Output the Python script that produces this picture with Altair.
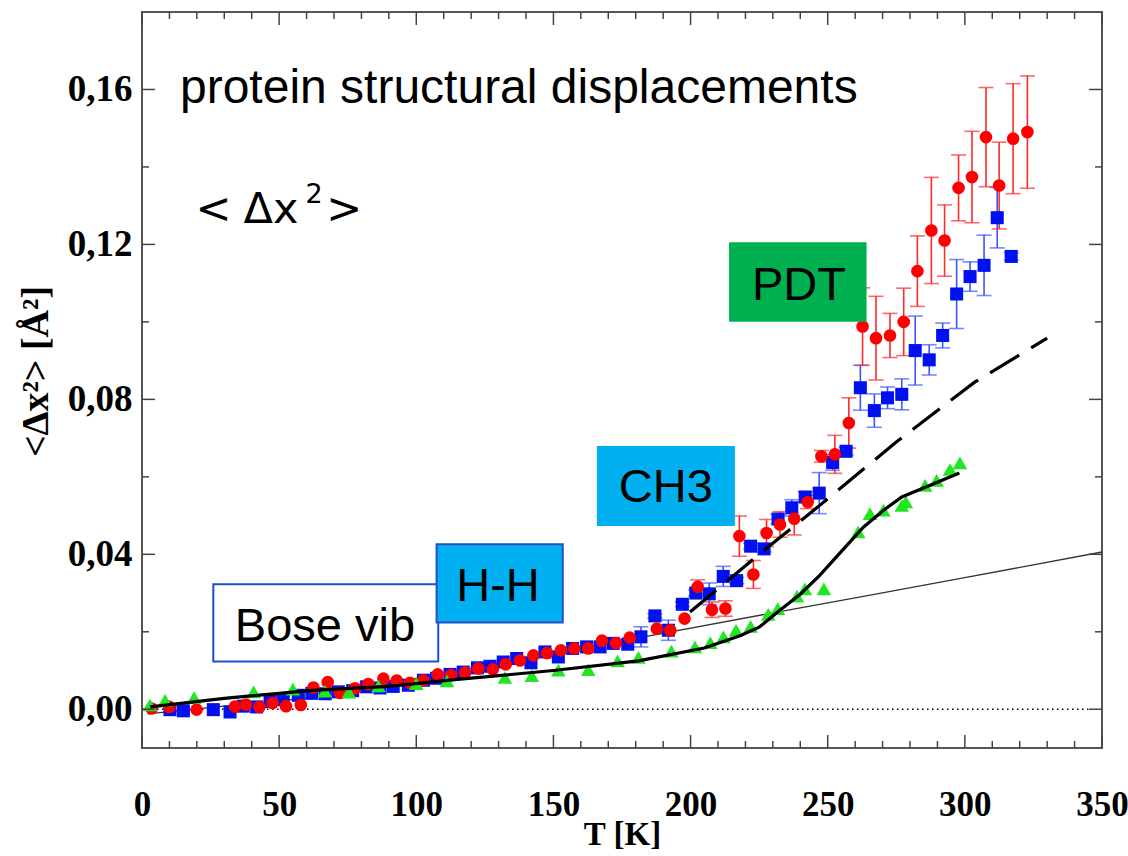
import altair as alt
import pandas as pd

# ---------------- data ----------------
red_T = [3.5, 10.0, 19.9, 33.9, 37.9, 42.8, 47.6, 52.5, 57.9, 62.5, 67.7, 72.2, 77.7, 82.5, 88.0,
         92.9, 97.7, 102.6, 107.8, 112.7, 117.8, 122.6, 127.9, 132.6, 137.8, 142.7, 147.7,
         152.7, 157.6, 162.7, 167.7, 172.8, 177.8, 187.7, 192.6, 197.8, 202.6, 207.8, 212.7,
         217.8, 222.9, 227.7, 232.6, 237.8, 242.7, 247.7, 252.6, 257.7, 262.7, 267.6, 272.7,
         277.7, 282.7, 287.8, 292.6, 297.7, 302.6, 307.7, 312.5, 317.6, 322.8]
red_y = [0.0002, 0.0006, -0.0001, 0.0007, 0.0012, 0.0006, 0.0016, 0.0008, 0.0011, 0.0056, 0.0070,
         0.0042, 0.0054, 0.0065, 0.0079, 0.0074, 0.0068, 0.0075, 0.0090, 0.0088, 0.0095, 0.0105,
         0.0103, 0.0116, 0.0126, 0.0139, 0.0145, 0.0152, 0.0157, 0.0157, 0.0177, 0.0171, 0.0185,
         0.0208, 0.0204, 0.0234, 0.0316, 0.0257, 0.0260, 0.0447, 0.0348, 0.0455, 0.0477, 0.0492,
         0.0535, 0.0653, 0.0658, 0.0739, 0.0988, 0.0958, 0.0965, 0.1000, 0.1131, 0.1236, 0.1210,
         0.1346, 0.1374, 0.1477, 0.1352, 0.1473, 0.1490]
red_err = [0.0] * 36 + [0.0018, 0.0020, 0.0020, 0.0052, 0.0036, 0.0035, 0.0033, 0.0042, 0.0017,
                        0.0015, 0.0049, 0.0065, 0.0100, 0.0108, 0.0057, 0.0087, 0.0091, 0.0137,
                        0.0092, 0.0085, 0.0118, 0.0128, 0.0112, 0.0142, 0.0145]

blue_T = [10.2, 15.1, 26.0, 32.1, 36.9, 41.8, 46.7, 51.5, 57.0, 61.9, 66.8, 71.6, 76.8, 81.9, 86.8,
          91.6, 97.1, 102.6, 107.4, 112.3, 117.1, 122.3, 126.9, 131.7, 136.6, 141.8, 146.9, 151.8,
          157.0, 162.1, 167.0, 171.8, 177.1, 181.9, 187.0, 191.9, 197.0, 201.9, 206.8, 211.9,
          216.8, 221.9, 226.8, 231.9, 236.9, 241.8, 246.9, 251.8, 256.7, 261.9, 267.0, 271.8,
          277.0, 281.9, 287.0, 291.9, 297.0, 301.9, 307.0, 311.8, 316.9]
blue_y = [-0.0001, -0.0004, -0.0001, -0.0007, 0.0008, 0.0006, 0.0020, 0.0025, 0.0036, 0.0041,
          0.0040, 0.0045, 0.0048, 0.0058, 0.0055, 0.0059, 0.0062, 0.0075, 0.0080, 0.0090, 0.0096,
          0.0107, 0.0111, 0.0122, 0.0131, 0.0120, 0.0148, 0.0135, 0.0157, 0.0161, 0.0161, 0.0170,
          0.0168, 0.0187, 0.0241, 0.0204, 0.0271, 0.0300, 0.0298, 0.0343, 0.0332, 0.0421, 0.0414,
          0.0491, 0.0520, 0.0548, 0.0558, 0.0637, 0.0666, 0.0830, 0.0771, 0.0804, 0.0813, 0.0926,
          0.0902, 0.0965, 0.1072, 0.1117, 0.1146, 0.1269, 0.1169]
blue_err = [0.0] * 33 + [0.0026, 0.0005, 0.0026, 0.0006, 0.0008, 0.0028, 0.0026, 0.0008, 0.0008,
                         0.0008, 0.0012, 0.0021, 0.0013, 0.0053, 0.0020, 0.0010, 0.0058, 0.0043,
                         0.0028, 0.0040, 0.0089, 0.0039, 0.0032, 0.0089, 0.0038, 0.0078, 0.0078,
                         0.0010]

green_T = [2.9, 8.4, 19.0, 40.7, 55.0, 66.7, 75.4, 86.2, 100.0, 111.2, 132.3, 142.1, 151.8, 162.7,
           173.4, 181.0, 193.0, 201.6, 207.2, 212.0, 216.6, 221.9, 228.3, 231.8, 238.8, 241.7,
           248.6, 261.1, 265.4, 270.3, 277.0, 278.5, 285.5, 289.7, 294.6, 298.2]
green_y = [0.0011, 0.0023, 0.0030, 0.0045, 0.0052, 0.0047, 0.0044, 0.0060, 0.0066, 0.0073, 0.0082,
           0.0087, 0.0101, 0.0102, 0.0125, 0.0134, 0.0150, 0.0161, 0.0172, 0.0187, 0.0204, 0.0214,
           0.0245, 0.0260, 0.0292, 0.0311, 0.0311, 0.0458, 0.0505, 0.0514, 0.0526, 0.0535, 0.0578,
           0.0591, 0.0619, 0.0636]

fit_T = [3, 30, 62, 90, 112, 150, 181, 205, 218, 225, 233, 240, 247, 254, 263, 270, 277, 288, 298]
fit_y = [0.0006, 0.0028, 0.0049, 0.0059, 0.0075, 0.0100, 0.0125, 0.0158, 0.0190, 0.0212, 0.0258,
         0.0297, 0.0345, 0.0400, 0.0470, 0.0512, 0.0548, 0.0580, 0.0610]

bose_T = [2, 30, 62, 120, 180, 240, 265, 298, 350]
bose_y = [-0.0012, 0.0008, 0.0030, 0.0106, 0.0183, 0.0262, 0.0294, 0.0337, 0.0406]

dash_T = [199.8, 225.0, 247.2, 275.0, 303.7, 330.0]
dash_y = [0.0251, 0.0400, 0.0527, 0.0690, 0.0845, 0.0958]

zero_T = [0, 345]
zero_y = [0.0, 0.0]

x_major = [0, 50, 100, 150, 200, 250, 300, 350]
x_minor = [v for v in range(10, 350, 10) if v % 50 != 0]
y_major = [0.0, 0.04, 0.08, 0.12, 0.16]
y_minor = [0.02, 0.06, 0.10, 0.14]

box_labels = ["Bose vib", "H-H", "CH3", "PDT"]
box_x1 = [26.0, 107.4, 166.2, 214.4]
box_x2 = [108.0, 153.4, 215.8, 263.8]
box_y1 = [0.0123, 0.0224, 0.0476, 0.1003]
box_y2 = [0.0323, 0.0426, 0.0677, 0.1203]
box_tx = [66.7, 129.8, 191.0, 239.5]
box_ty = [0.0177, 0.0280, 0.0534, 0.1057]
box_fill = ["#ffffff", "#00b0f0", "#00b0f0", "#00b050"]
box_stroke = ["#2050c8", "#2050c8", "#00b0f0", "#00b050"]

# ---------------- frames ----------------
W, H = 960, 736
XD = [0, 350]
YD = [-0.01, 0.18]

red = pd.DataFrame({"T": red_T, "y": red_y, "e": red_err})
red["lo"] = red["y"] - red["e"]
red["hi"] = red["y"] + red["e"]
red_eb = red[red["e"] > 0]
blue = pd.DataFrame({"T": blue_T, "y": blue_y, "e": blue_err})
blue["lo"] = blue["y"] - blue["e"]
blue["hi"] = blue["y"] + blue["e"]
blue_eb = blue[blue["e"] > 0]
green = pd.DataFrame({"T": green_T, "y": green_y})
fit = pd.DataFrame({"T": fit_T, "y": fit_y})
bose = pd.DataFrame({"T": bose_T, "y": bose_y})
dash = pd.DataFrame({"T": dash_T, "y": dash_y})
zero = pd.DataFrame({"T": zero_T, "y": zero_y})
boxes = pd.DataFrame({"label": box_labels, "x1": box_x1, "x2": box_x2, "y1": box_y1, "y2": box_y2,
                      "tx": box_tx, "ty": box_ty, "fill": box_fill, "stroke": box_stroke})

xs = alt.Scale(domain=XD, nice=False, zero=False)
ys = alt.Scale(domain=YD, nice=False, zero=False)

SERIF = "Liberation Serif"
SANS = "Liberation Sans"

xaxis = alt.Axis(values=x_major, ticks=False, tickSize=0, domain=False, grid=False,
                 labelFont=SERIF, labelFontWeight="bold", labelFontSize=35, labelColor="black",
                 labelPadding=39, labelFlush=False, labelOverlap=False, format="d",
                 title="T [K]", titleFont=SERIF, titleFontWeight="bold", titleFontSize=33,
                 titleColor="black", titleY=86, titleBaseline="middle")
yaxis = alt.Axis(values=y_major, ticks=False, tickSize=0, domain=False, grid=False,
                 labelFont=SERIF, labelFontWeight="bold", labelFontSize=37, labelColor="black",
                 labelPadding=10, labelOverlap=False,
                 labelExpr="replace(format(datum.value, '.2f'), '.', ',')",
                 title="<Δx²> [Å²]", titleFont=SERIF, titleFontWeight="bold", titleFontSize=38,
                 titleColor="black", titleX=-106, titleY=359, titleAngle=270,
                 titleBaseline="middle", titleAlign="center")


def X(f):
    return alt.X(f, type="quantitative", scale=xs, axis=xaxis)


def Y(f):
    return alt.Y(f, type="quantitative", scale=ys, axis=yaxis)


layers = []

# zero dotted line
layers.append(alt.Chart(zero).mark_line(color="black", strokeWidth=1.3, strokeDash=[1.5, 3.5])
              .encode(x=X("T"), y=Y("y")))
# Bose vib thin line
layers.append(alt.Chart(bose).mark_line(color="#333333", strokeWidth=1.3)
              .encode(x=X("T"), y=Y("y")))

# error bars
for df, col in [(blue_eb, "#3a55ff"), (red_eb, "#ff2a2a")]:
    layers.append(alt.Chart(df).mark_rule(color=col, strokeWidth=1.6)
                  .encode(x=X("T"), y=Y("lo"), y2="hi"))
    layers.append(alt.Chart(df).mark_tick(color=col, orient="horizontal", size=15, thickness=1.6)
                  .encode(x=X("T"), y=Y("lo")))
    layers.append(alt.Chart(df).mark_tick(color=col, orient="horizontal", size=15, thickness=1.6)
                  .encode(x=X("T"), y=Y("hi")))

# markers
layers.append(alt.Chart(blue).mark_point(shape="square", filled=True, size=170, color="#0010f0",
                                         opacity=1).encode(x=X("T"), y=Y("y")))
layers.append(alt.Chart(red).mark_point(shape="circle", filled=True, size=160, color="#ff0000",
                                        opacity=1).encode(x=X("T"), y=Y("y")))
layers.append(alt.Chart(green).mark_point(shape="triangle-up", filled=True, size=215,
                                          color="#22e622", opacity=1)
              .encode(x=X("T"), y=Y("y")))

# fits
layers.append(alt.Chart(fit).mark_line(color="black", strokeWidth=3.2)
              .encode(x=X("T"), y=Y("y")))
layers.append(alt.Chart(dash).mark_line(color="black", strokeWidth=3.2, strokeDash=[34, 14])
              .encode(x=X("T"), y=Y("y")))

# inward ticks (frame ticks)
for vals, ln in [(x_major, 13), (x_minor, 7)]:
    tdf = pd.DataFrame({"v": vals})
    layers.append(alt.Chart(tdf).mark_rule(color="#444444", strokeWidth=1.5)
                  .encode(x=X("v"), y=alt.value(H), y2=alt.value(H - ln)))
    layers.append(alt.Chart(tdf).mark_rule(color="#444444", strokeWidth=1.5)
                  .encode(x=X("v"), y=alt.value(0), y2=alt.value(ln)))
for vals, ln in [(y_major, 13), (y_minor, 7)]:
    tdf = pd.DataFrame({"v": vals})
    layers.append(alt.Chart(tdf).mark_rule(color="#444444", strokeWidth=1.5)
                  .encode(y=Y("v"), x=alt.value(0), x2=alt.value(ln)))
    layers.append(alt.Chart(tdf).mark_rule(color="#444444", strokeWidth=1.5)
                  .encode(y=Y("v"), x=alt.value(W), x2=alt.value(W - ln)))

# annotation boxes
layers.append(alt.Chart(boxes).mark_rect(strokeWidth=2)
              .encode(x=X("x1"), x2="x2", y=Y("y1"), y2="y2",
                      fill=alt.Fill("fill:N", scale=None),
                      stroke=alt.Stroke("stroke:N", scale=None)))
layers.append(alt.Chart(boxes).mark_text(font=SANS, fontSize=47, color="black", align="center",
                                         baseline="alphabetic")
              .encode(x=X("tx"), y=Y("ty"), text="label:N"))

# title texts
title_df = pd.DataFrame({"t": ["protein structural displacements"], "x": [13.85], "y": [0.1565]})
layers.append(alt.Chart(title_df).mark_text(font=SANS, fontSize=48, color="black", align="left",
                                            baseline="alphabetic")
              .encode(x=X("x"), y=Y("y"), text="t:N"))

sym_df = pd.DataFrame({"t": ["<", "Δx", ">"], "x": [19.5, 47.0, 80.3],
                       "y": [0.1255, 0.1255, 0.1255],
                       "a": ["left", "center", "right"]})
for _, r in sym_df.iterrows():
    d = pd.DataFrame([r])
    layers.append(alt.Chart(d).mark_text(font="DejaVu Sans", fontSize=43, color="black",
                                         align=r["a"], baseline="alphabetic")
                  .encode(x=X("x"), y=Y("y"), text="t:N"))
sup_df = pd.DataFrame({"t": ["2"], "x": [59.6], "y": [0.1307]})
layers.append(alt.Chart(sup_df).mark_text(font="DejaVu Sans", fontSize=27, color="black",
                                          align="left", baseline="alphabetic")
              .encode(x=X("x"), y=Y("y"), text="t:N"))

chart = alt.layer(*layers).properties(
    width=W, height=H,
    padding={"left": 142, "top": 12, "right": 26, "bottom": 108},
    autosize=alt.AutoSizeParams(type="none"),
    background="white",
).configure_view(stroke="#555555", strokeWidth=2)

chart.save("out.html", embed_options={"renderer": "svg", "actions": False})
